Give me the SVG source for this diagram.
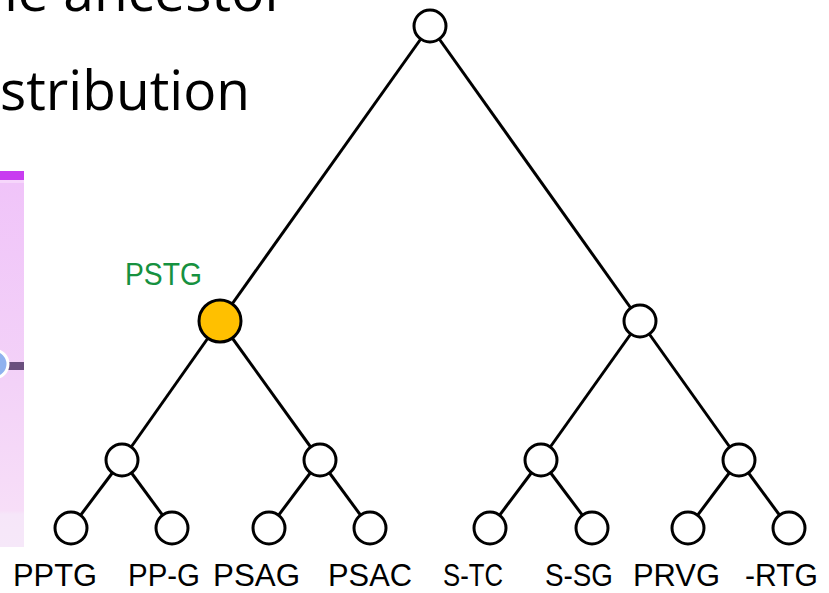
<svg xmlns="http://www.w3.org/2000/svg" width="829" height="593" viewBox="0 0 829 593">
  <defs>
    <style>
      .edge { stroke: #000; stroke-width: 3; fill: none; }
      .node { fill: #fff; stroke: #000; stroke-width: 3; }
      .hl { fill: #ffc000; stroke: #000; stroke-width: 3; }
      .leaf-label { font-family: "Liberation Sans", "Open Sans", sans-serif; font-size: 32px; fill: #000; }
      .tag { font-family: "Liberation Sans", "Open Sans", sans-serif; font-size: 32px; fill: #16913f; }
      .title { font-family: "Open Sans", "Liberation Sans", sans-serif; font-size: 55px; fill: #000; }
    </style>
    <linearGradient id="panelFill" x1="0" y1="0" x2="0" y2="1">
      <stop offset="0" stop-color="#f0c4f9"/>
      <stop offset="0.55" stop-color="#f3d2f8"/>
      <stop offset="0.9" stop-color="#f7def8"/>
      <stop offset="0.91" stop-color="#f6e6f9"/>
      <stop offset="1" stop-color="#f6e8f9"/>
    </linearGradient>
  </defs>

  <rect width="829" height="593" fill="#fff"/>

  <!-- heading text running off the left edge -->
  <text class="title" x="-16" y="11" textLength="303" lengthAdjust="spacing">he ancestor</text>
  <text class="title" x="0" y="110" textLength="250" lengthAdjust="spacing">stribution</text>

  <!-- side panel -->
  <g id="side-panel">
    <rect x="0" y="171" width="24" height="9" fill="#c83cf0"/>
    <rect x="0" y="180" width="24" height="3" fill="#f6d6fb"/>
    <rect x="0" y="183" width="24" height="364" fill="url(#panelFill)"/>
    <line x1="6" y1="366" x2="24" y2="366" stroke="#6a4f7e" stroke-width="8"/>
    <circle cx="-6" cy="364" r="14" fill="#8fb2ef" stroke="#fff" stroke-width="3"/>
  </g>

  <!-- tree edges -->
  <g id="edges">
    <line class="edge" x1="430" y1="26" x2="220" y2="321"/>
    <line class="edge" x1="430" y1="26" x2="640" y2="321"/>
    <line class="edge" x1="220" y1="321" x2="122" y2="460"/>
    <line class="edge" x1="220" y1="321" x2="320" y2="460"/>
    <line class="edge" x1="640" y1="321" x2="541" y2="460"/>
    <line class="edge" x1="640" y1="321" x2="739" y2="460"/>
    <line class="edge" x1="122" y1="460" x2="71" y2="528"/>
    <line class="edge" x1="122" y1="460" x2="172" y2="528"/>
    <line class="edge" x1="320" y1="460" x2="269" y2="528"/>
    <line class="edge" x1="320" y1="460" x2="370" y2="528"/>
    <line class="edge" x1="541" y1="460" x2="490" y2="528"/>
    <line class="edge" x1="541" y1="460" x2="592" y2="528"/>
    <line class="edge" x1="739" y1="460" x2="688" y2="528"/>
    <line class="edge" x1="739" y1="460" x2="789" y2="528"/>
  </g>

  <!-- nodes -->
  <g id="root"><circle class="node" cx="430" cy="26" r="16"/></g>
  <g id="pstg">
    <circle class="hl" cx="220" cy="321" r="21"/>
    <text class="tag" x="125" y="285" textLength="77" lengthAdjust="spacingAndGlyphs">PSTG</text>
  </g>
  <g id="right-clade"><circle class="node" cx="640" cy="321" r="16"/></g>
  <g id="pp-clade"><circle class="node" cx="122" cy="460" r="16"/></g>
  <g id="psa-clade"><circle class="node" cx="320" cy="460" r="16"/></g>
  <g id="s-clade"><circle class="node" cx="541" cy="460" r="16"/></g>
  <g id="rtg-clade"><circle class="node" cx="739" cy="460" r="16"/></g>

  <g id="leaf-pptg">
    <circle class="node" cx="71" cy="528" r="16"/>
    <text class="leaf-label" x="13" y="586" textLength="84" lengthAdjust="spacingAndGlyphs">PPTG</text>
  </g>
  <g id="leaf-ppg">
    <circle class="node" cx="172" cy="528" r="16"/>
    <text class="leaf-label" x="128" y="586" textLength="72" lengthAdjust="spacingAndGlyphs">PP-G</text>
  </g>
  <g id="leaf-psag">
    <circle class="node" cx="269" cy="528" r="16"/>
    <text class="leaf-label" x="213" y="586" textLength="87" lengthAdjust="spacingAndGlyphs">PSAG</text>
  </g>
  <g id="leaf-psac">
    <circle class="node" cx="370" cy="528" r="16"/>
    <text class="leaf-label" x="328" y="586" textLength="84" lengthAdjust="spacingAndGlyphs">PSAC</text>
  </g>
  <g id="leaf-stc">
    <circle class="node" cx="490" cy="528" r="16"/>
    <text class="leaf-label" x="443" y="586" textLength="60" lengthAdjust="spacingAndGlyphs">S-TC</text>
  </g>
  <g id="leaf-ssg">
    <circle class="node" cx="592" cy="528" r="16"/>
    <text class="leaf-label" x="545" y="586" textLength="68" lengthAdjust="spacingAndGlyphs">S-SG</text>
  </g>
  <g id="leaf-prvg">
    <circle class="node" cx="688" cy="528" r="16"/>
    <text class="leaf-label" x="633" y="586" textLength="87" lengthAdjust="spacingAndGlyphs">PRVG</text>
  </g>
  <g id="leaf-rtg">
    <circle class="node" cx="789" cy="528" r="16"/>
    <text class="leaf-label" x="745" y="586" textLength="73" lengthAdjust="spacingAndGlyphs">-RTG</text>
  </g>
</svg>
